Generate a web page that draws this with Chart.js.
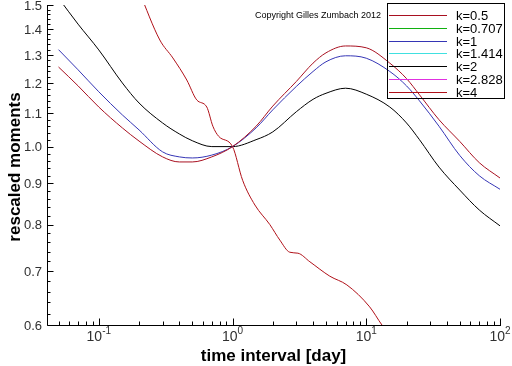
<!DOCTYPE html>
<html>
<head>
<meta charset="utf-8">
<script src="https://cdn.jsdelivr.net/npm/chart.js@4/dist/chart.umd.min.js"></script>
<style>
  html, body { margin: 0; padding: 0; background: #fff; }
  canvas { display: block; }
</style>
</head>
<body>
<canvas id="momentsChart" width="512" height="366"></canvas>
<script>
// time grid (days) shared by the smooth curves
const times = [0.05, 0.07, 0.1, 0.15, 0.2, 0.3, 0.4, 0.5, 0.7, 1, 1.5, 2, 3, 4, 5, 7, 10, 15, 20, 25, 35, 50, 70, 100];
const k05 = [1.256, 1.19, 1.12, 1.055, 1.016, 0.971, 0.957, 0.957, 0.971, 1.0, 1.06, 1.123, 1.205, 1.27, 1.308, 1.334, 1.327, 1.27, 1.215, 1.16, 1.08, 1.015, 0.955, 0.914];
const k1 = [1.32, 1.246, 1.17, 1.095, 1.049, 0.985, 0.971, 0.968, 0.976, 1.0, 1.055, 1.111, 1.188, 1.24, 1.275, 1.297, 1.288, 1.24, 1.19, 1.14, 1.06, 0.975, 0.92, 0.885];
const k2 = [1.53, 1.42, 1.319, 1.2, 1.133, 1.07, 1.037, 1.017, 1.0, 1.0, 1.02, 1.043, 1.105, 1.145, 1.165, 1.182, 1.162, 1.12, 1.07, 1.02, 0.943, 0.883, 0.834, 0.797];
// k=4 is noisy and sampled on its own grid
const k4Times = [0.2, 0.286, 0.358, 0.455, 0.54, 0.642, 0.713, 0.787, 1, 1.19, 1.47, 1.9, 2.26, 2.68, 3.08, 3.79, 5.34, 7.16, 10.6, 13.1, 16];
const k4 = [1.56, 1.357, 1.289, 1.21, 1.143, 1.12, 1.06, 1.03, 1.0, 0.908, 0.846, 0.8, 0.765, 0.739, 0.737, 0.719, 0.69, 0.673, 0.632, 0.6, 0.575];

const kLabels = ["k=0.5", "k=0.707", "k=1", "k=1.414", "k=2", "k=2.828", "k=4"];
const kColors = ["#a81020", "#10b010", "#3535b5", "#40e0e0", "#000000", "#e030e0", "#b01018"];
const yTicks = [0.6, 0.7, 0.8, 0.9, 1.0, 1.1, 1.2, 1.3, 1.4, 1.5];
const xTicks = [0.1, 1, 10, 100];
const xExp = ["-1", "0", "1", "2"];

function pts(xs, ys) {
  return xs.map((x, i) => ({ x: x, y: ys[i] }));
}

const seriesData = [pts(times, k05), [], pts(times, k1), [], pts(times, k2), [], pts(k4Times, k4)];

const axesPlugin = {
  id: "axesPlugin",
  afterDatasetsDraw(chart) {
    const ctx = chart.ctx;
    const a = chart.chartArea;
    const xs = chart.scales.x;
    const ys = chart.scales.y;
    const L = Math.round(a.left) + 0.5;
    const B = Math.round(a.bottom) + 0.5;
    ctx.save();
    ctx.strokeStyle = "#000";
    ctx.lineWidth = 1;
    ctx.beginPath();
    ctx.moveTo(L, Math.round(a.top));
    ctx.lineTo(L, B);
    ctx.lineTo(Math.round(a.right) + 1, B);
    // y ticks every 0.02, major every 0.1
    for (let i = 30; i <= 75; i++) {
      const py = Math.round(ys.getPixelForValue(i / 50)) + 0.5;
      const len = i % 5 === 0 ? 6 : 3;
      ctx.moveTo(L, py);
      ctx.lineTo(L + len, py);
    }
    // x ticks, decades and 2..9
    for (let d = -2; d <= 2; d++) {
      for (let m = 1; m <= 9; m++) {
        const v = m * Math.pow(10, d);
        if (v < xs.min || v > xs.max * 1.0001) continue;
        const px = Math.round(xs.getPixelForValue(v)) + 0.5;
        const len = m === 1 ? 7 : 4;
        ctx.moveTo(px, B);
        ctx.lineTo(px, B - len);
      }
    }
    ctx.stroke();

    // tick labels
    ctx.fillStyle = "#303030";
    ctx.font = "13px 'Liberation Sans', Arial, sans-serif";
    ctx.textAlign = "right";
    ctx.textBaseline = "middle";
    yTicks.forEach(v => {
      ctx.fillText(v.toFixed(1), a.left - 5, ys.getPixelForValue(v) + 1);
    });
    ctx.textAlign = "left";
    ctx.textBaseline = "alphabetic";
    xTicks.forEach((v, i) => {
      ctx.font = "14px 'Liberation Sans', Arial, sans-serif";
      const w1 = ctx.measureText("10").width;
      ctx.font = "10px 'Liberation Sans', Arial, sans-serif";
      const w2 = ctx.measureText(xExp[i]).width;
      const x0 = xs.getPixelForValue(v) - (w1 + w2) / 2;
      ctx.font = "14px 'Liberation Sans', Arial, sans-serif";
      ctx.fillText("10", x0, 341);
      ctx.font = "10px 'Liberation Sans', Arial, sans-serif";
      ctx.fillText(xExp[i], x0 + w1, 334);
    });

    // axis titles
    ctx.fillStyle = "#000";
    ctx.font = "bold 17px 'Liberation Sans', Arial, sans-serif";
    ctx.textAlign = "center";
    ctx.fillText("time interval [day]", (a.left + a.right) / 2, 361);
    ctx.save();
    ctx.translate(20, 167);
    ctx.rotate(-Math.PI / 2);
    ctx.fillText("rescaled moments", 0, 0);
    ctx.restore();

    // copyright
    ctx.font = "9px 'Liberation Sans', Arial, sans-serif";
    ctx.textAlign = "left";
    ctx.textBaseline = "middle";
    ctx.fillStyle = "#000";
    ctx.fillText("Copyright Gilles Zumbach 2012", 255, 16);

    // legend box
    ctx.strokeStyle = "#000";
    ctx.strokeRect(387.5, 3.5, 117, 95);
    ctx.font = "13px 'Liberation Sans', Arial, sans-serif";
    chart.data.datasets.forEach((ds, i) => {
      const ry = Math.round(15 + i * 12.8) + 0.5;
      ctx.strokeStyle = ds.borderColor;
      ctx.beginPath();
      ctx.moveTo(389, ry);
      ctx.lineTo(447, ry);
      ctx.stroke();
      ctx.fillStyle = "#000";
      ctx.fillText(ds.label, 456, ry + 1);
    });
    ctx.restore();
  }
};

new Chart(document.getElementById("momentsChart"), {
  type: "line",
  data: {
    datasets: kLabels.map((lab, i) => ({
      label: lab,
      data: seriesData[i],
      borderColor: kColors[i],
      borderWidth: 1,
      pointRadius: 0,
      cubicInterpolationMode: "monotone",
      fill: false
    }))
  },
  options: {
    responsive: false,
    animation: false,
    devicePixelRatio: 1,
    layout: { padding: { left: 47, right: 12, top: 5, bottom: 41 } },
    scales: {
      x: { type: "logarithmic", min: 0.041, max: 100, display: false },
      y: { type: "logarithmic", min: 0.6, max: 1.5, display: false }
    },
    plugins: {
      legend: { display: false },
      tooltip: { enabled: false }
    }
  },
  plugins: [axesPlugin]
});
</script>
</body>
</html>
